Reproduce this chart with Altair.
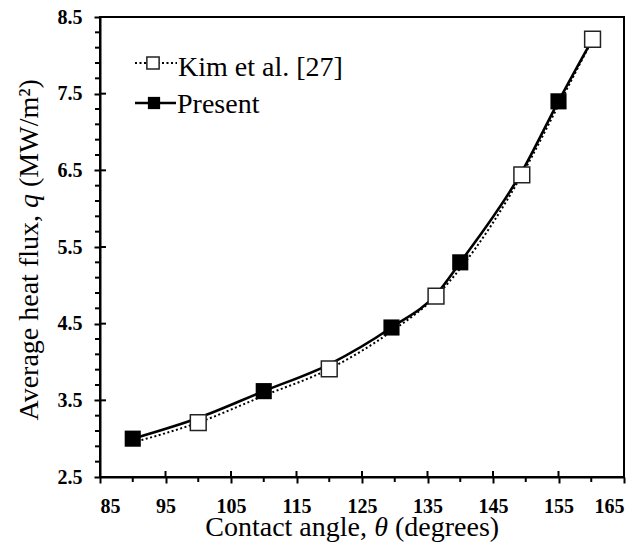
import altair as alt
import pandas as pd

# ---- data ----
present_angle = [90, 100, 110, 120, 129.5, 136.3, 140, 149.4, 155, 160.2]
present_flux = [3.00, 3.27, 3.62, 3.97, 4.45, 4.88, 5.30, 6.48, 7.40, 8.21]
present_mark_angle = [90, 110, 129.5, 140, 155]
present_mark_flux = [3.00, 3.62, 4.45, 5.30, 7.40]

kim_angle = [90, 100, 110, 120, 129.5, 136.3, 140, 149.4, 155, 160.2]
kim_flux = [2.95, 3.21, 3.56, 3.91, 4.40, 4.86, 5.22, 6.44, 7.35, 8.21]
kim_mark_angle = [100, 120, 136.3, 149.4, 160.2]
kim_mark_flux = [3.21, 3.91, 4.86, 6.44, 8.21]

x_major = [85, 95, 105, 115, 125, 135, 145, 155, 165]
x_minor = [90, 100, 110, 120, 130, 140, 150, 160]
y_major = [2.5, 3.5, 4.5, 5.5, 6.5, 7.5, 8.5]
y_minor = [2.7, 2.9, 3.1, 3.3, 3.7, 3.9, 4.1, 4.3, 4.7, 4.9, 5.1, 5.3,
           5.7, 5.9, 6.1, 6.3, 6.7, 6.9, 7.1, 7.3, 7.7, 7.9, 8.1, 8.3]

legend_labels = ["Kim et al. [27]", "Present"]
x_title_parts = ["Contact angle,", "θ", "(degrees)"]
y_title_parts = ["Average heat flux,", "q", "(MW/m²)"]

W, H = 524, 460
FONT = "Liberation Serif"

xscale = alt.Scale(domain=[85, 165], nice=False, zero=False)
yscale = alt.Scale(domain=[2.5, 8.5], nice=False, zero=False)

xaxis = alt.Axis(values=x_major, format="d", title=None,
                 grid=False, tickSize=6, labelPadding=13)
yaxis = alt.Axis(values=y_major, format=".1f", title=None,
                 grid=False, tickSize=6, labelPadding=12)

X = alt.X("angle:Q", scale=xscale, axis=xaxis)
Y = alt.Y("flux:Q", scale=yscale, axis=yaxis)

present_df = pd.DataFrame({"angle": present_angle, "flux": present_flux})
kim_df = pd.DataFrame({"angle": kim_angle, "flux": kim_flux})
present_pts = pd.DataFrame({"angle": present_mark_angle, "flux": present_mark_flux})
kim_pts = pd.DataFrame({"angle": kim_mark_angle, "flux": kim_mark_flux})

kim_line = alt.Chart(kim_df).mark_line(
    color="black", strokeWidth=2, strokeDash=[2, 2.5], interpolate="monotone"
).encode(x=X, y=Y)
present_line = alt.Chart(present_df).mark_line(
    color="black", strokeWidth=2.6, interpolate="monotone"
).encode(x=X, y=Y)
kim_marks = alt.Chart(kim_pts).mark_point(
    shape="square", filled=True, fill="white", stroke="#222", strokeWidth=1.5,
    size=250, opacity=1
).encode(x=X, y=Y)
present_marks = alt.Chart(present_pts).mark_point(
    shape="square", filled=True, color="black", size=260, opacity=1
).encode(x=X, y=Y)

# inner half of major ticks and outward minor ticks
xmaj_in = alt.Chart(pd.DataFrame({"angle": x_major})).mark_rule(
    color="black", strokeWidth=2).encode(x=X, y=alt.value(H), y2=alt.value(H - 6))
xmin_out = alt.Chart(pd.DataFrame({"angle": x_minor})).mark_rule(
    color="black", strokeWidth=2).encode(x=X, y=alt.value(H), y2=alt.value(H + 5))
ymaj_in = alt.Chart(pd.DataFrame({"flux": y_major})).mark_rule(
    color="black", strokeWidth=2).encode(y=Y, x=alt.value(0), x2=alt.value(6))
ymin_out = alt.Chart(pd.DataFrame({"flux": y_minor})).mark_rule(
    color="black", strokeWidth=2).encode(y=Y, x=alt.value(-5), x2=alt.value(0))

# manual legend (line sample + marker + label)
leg_df = pd.DataFrame({"label": legend_labels})
leg_kim_line = alt.Chart(leg_df.iloc[[0]]).mark_rule(
    color="black", strokeWidth=2, strokeDash=[2, 2.5]
).encode(x=alt.value(35), x2=alt.value(77), y=alt.value(46))
leg_kim_pt = alt.Chart(leg_df.iloc[[0]]).mark_point(
    shape="square", filled=True, fill="white", stroke="#222", strokeWidth=1.5,
    size=150, opacity=1
).encode(x=alt.value(53), y=alt.value(46))
leg_pre_line = alt.Chart(leg_df.iloc[[1]]).mark_rule(
    color="black", strokeWidth=2.6
).encode(x=alt.value(35), x2=alt.value(76), y=alt.value(86))
leg_pre_pt = alt.Chart(leg_df.iloc[[1]]).mark_point(
    shape="square", filled=True, color="black", size=150, opacity=1
).encode(x=alt.value(54), y=alt.value(86))
leg_text1 = alt.Chart(leg_df.iloc[[0]]).mark_text(
    align="left", baseline="alphabetic", font=FONT, fontSize=28, color="black"
).encode(x=alt.value(78), y=alt.value(59), text="label:N")
leg_text2 = alt.Chart(leg_df.iloc[[1]]).mark_text(
    align="left", baseline="alphabetic", font=FONT, fontSize=28, color="black"
).encode(x=alt.value(77), y=alt.value(96), text="label:N")

# axis titles as text, with the symbols in italic
xt = pd.DataFrame({"t": x_title_parts})
yt = pd.DataFrame({"t": y_title_parts})
TXT = dict(font=FONT, fontSize=28, color="black", baseline="alphabetic")
GAP = 14   # half symbol width + one space
XT_Y, XT_C = 519, 281      # baseline and italic-symbol centre (plot coords)
xt1 = alt.Chart(xt.iloc[[0]]).mark_text(align="right", **TXT).encode(
    x=alt.value(XT_C - GAP), y=alt.value(XT_Y), text="t:N")
xt2 = alt.Chart(xt.iloc[[1]]).mark_text(align="center", fontStyle="italic", **TXT).encode(
    x=alt.value(XT_C), y=alt.value(XT_Y), text="t:N")
xt3 = alt.Chart(xt.iloc[[2]]).mark_text(align="left", **TXT).encode(
    x=alt.value(XT_C + GAP), y=alt.value(XT_Y), text="t:N")

YT_X, YT_C = -62, 184
yt1 = alt.Chart(yt.iloc[[0]]).mark_text(align="right", angle=270, **TXT).encode(
    x=alt.value(YT_X), y=alt.value(YT_C + GAP), text="t:N")
yt2 = alt.Chart(yt.iloc[[1]]).mark_text(align="center", angle=270, fontStyle="italic", **TXT).encode(
    x=alt.value(YT_X), y=alt.value(YT_C), text="t:N")
yt3 = alt.Chart(yt.iloc[[2]]).mark_text(align="left", angle=270, **TXT).encode(
    x=alt.value(YT_X), y=alt.value(YT_C - GAP), text="t:N")

chart = alt.layer(
    kim_line, present_line, kim_marks, present_marks,
    xmaj_in, xmin_out, ymaj_in, ymin_out,
    leg_kim_line, leg_kim_pt, leg_pre_line, leg_pre_pt, leg_text1, leg_text2,
    xt1, xt2, xt3, yt1, yt2, yt3
).properties(
    width=W, height=H,
    autosize=alt.AutoSizeParams(type="none"),
    padding={"left": 100, "top": 17, "right": 20, "bottom": 68},
    background="white"
).configure_view(
    stroke="black", strokeWidth=2
).configure_axis(
    domainColor="black", domainWidth=2, tickColor="black", tickWidth=2,
    labelFont=FONT, labelFontSize=20, labelFontWeight="bold", labelColor="black"
)

chart.save("out.html", embed_options={"renderer": "svg", "actions": False})
